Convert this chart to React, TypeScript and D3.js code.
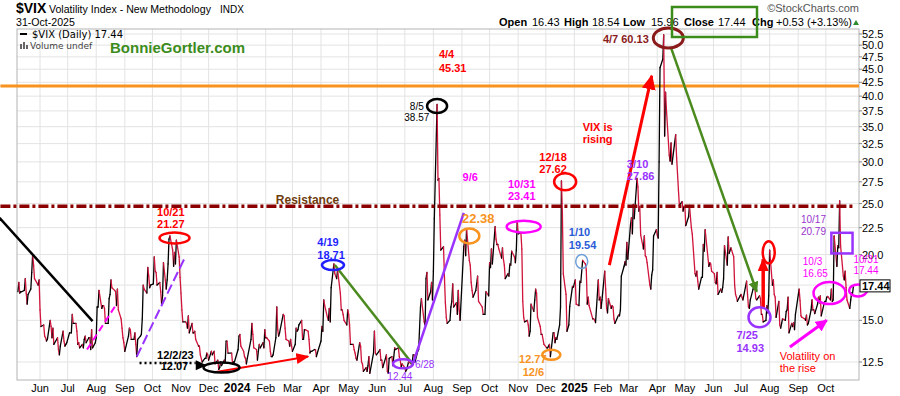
import React from "react";
import * as d3 from "d3";

// ---------- DATA ----------
const vix2023: [string, number][] = [
["2023-05-08",17.0],["2023-05-09",17.7],["2023-05-10",16.9],["2023-05-11",17.0],["2023-05-12",17.0],["2023-05-15",17.1],["2023-05-16",18.0],["2023-05-17",16.9],["2023-05-18",16.1],["2023-05-19",16.8],["2023-05-22",17.2],["2023-05-23",18.5],["2023-05-24",20.0],["2023-05-25",19.1],["2023-05-26",18.0],["2023-05-30",17.5],["2023-05-31",17.9],["2023-06-01",15.7],["2023-06-02",14.6],["2023-06-05",14.7],["2023-06-06",14.0],["2023-06-07",13.9],["2023-06-08",13.7],["2023-06-09",13.8],["2023-06-12",15.0],["2023-06-13",14.6],["2023-06-14",13.9],["2023-06-15",14.5],["2023-06-16",13.5],["2023-06-20",13.9],["2023-06-21",13.2],["2023-06-22",12.9],["2023-06-23",13.4],["2023-06-26",14.3],["2023-06-27",13.7],["2023-06-28",13.4],["2023-06-29",13.5],["2023-06-30",13.6],["2023-07-03",14.2],["2023-07-05",14.2],["2023-07-06",15.4],["2023-07-07",14.8],["2023-07-10",14.8],["2023-07-11",14.3],["2023-07-12",13.5],["2023-07-13",13.6],["2023-07-14",13.3],["2023-07-17",13.5],["2023-07-18",13.3],["2023-07-19",13.8],["2023-07-20",14.0],["2023-07-21",13.6],["2023-07-24",13.9],["2023-07-25",13.9],["2023-07-26",13.2],["2023-07-27",14.4],["2023-07-28",13.3],["2023-07-31",13.6],["2023-08-01",13.9],["2023-08-02",15.9],["2023-08-03",15.9],["2023-08-04",17.1],["2023-08-07",15.8],["2023-08-08",16.0],["2023-08-09",16.0],["2023-08-10",15.8],["2023-08-11",14.8],["2023-08-14",14.8],["2023-08-15",16.5],["2023-08-16",16.8],["2023-08-17",17.9],["2023-08-18",17.3],["2023-08-21",17.1],["2023-08-22",17.0],["2023-08-23",16.0],["2023-08-24",17.2],["2023-08-25",15.7],["2023-08-28",15.1],["2023-08-29",14.5],["2023-08-30",13.9],["2023-08-31",13.6],["2023-09-01",13.1],["2023-09-05",14.0],["2023-09-06",14.5],["2023-09-07",14.4],["2023-09-08",13.8],["2023-09-11",13.8],["2023-09-12",14.2],["2023-09-13",13.5],["2023-09-14",12.8],["2023-09-15",13.8],["2023-09-18",14.0],["2023-09-19",14.1],["2023-09-20",15.1],["2023-09-21",17.5],["2023-09-22",17.2],["2023-09-25",16.9],["2023-09-26",18.9],["2023-09-27",18.2],["2023-09-28",17.3],["2023-09-29",17.5],["2023-10-02",17.6],["2023-10-03",19.8],["2023-10-04",18.6],["2023-10-05",18.5],["2023-10-06",17.5],["2023-10-09",17.7],["2023-10-10",17.0],["2023-10-11",16.1],["2023-10-12",16.7],["2023-10-13",19.3],["2023-10-16",17.2],["2023-10-17",17.9],["2023-10-18",19.2],["2023-10-19",21.4],["2023-10-20",21.7],["2023-10-23",20.4],["2023-10-24",19.0],["2023-10-25",20.2],["2023-10-26",19.2],["2023-10-27",21.3],["2023-10-30",19.8],["2023-10-31",18.1],["2023-11-01",16.9],["2023-11-02",15.7],["2023-11-03",14.9],["2023-11-06",14.9],["2023-11-07",14.8],["2023-11-08",14.5],["2023-11-09",15.3],["2023-11-10",14.2],["2023-11-13",14.8],["2023-11-14",14.2],["2023-11-15",14.2],["2023-11-16",14.3],["2023-11-17",13.8],["2023-11-20",13.4],["2023-11-21",13.4],["2023-11-22",12.9],["2023-11-24",12.5],["2023-11-27",12.7],["2023-11-28",12.7],["2023-11-29",13.0],["2023-11-30",12.9],["2023-12-01",12.6],["2023-12-04",13.1],["2023-12-05",12.9],["2023-12-06",13.0],["2023-12-07",13.1],["2023-12-08",12.4],["2023-12-11",12.6],["2023-12-12",12.1],["2023-12-13",12.2],["2023-12-14",12.5],["2023-12-15",12.3],["2023-12-18",12.6],["2023-12-19",12.5],["2023-12-20",13.7],["2023-12-21",13.7],["2023-12-22",13.0],["2023-12-26",13.0],["2023-12-27",12.4],["2023-12-28",12.5],["2023-12-29",12.5]
];

const vix2024: [string, number][] = [
["2024-01-02",13.2],["2024-01-03",14.0],["2024-01-04",14.1],["2024-01-05",13.4],["2024-01-08",13.1],["2024-01-09",12.8],["2024-01-10",12.7],["2024-01-11",12.4],["2024-01-12",12.7],["2024-01-16",13.8],["2024-01-17",14.8],["2024-01-18",14.1],["2024-01-19",13.3],["2024-01-22",13.2],["2024-01-23",12.6],["2024-01-24",13.1],["2024-01-25",13.5],["2024-01-26",13.3],["2024-01-29",13.6],["2024-01-30",13.3],["2024-01-31",14.4],["2024-02-01",13.9],["2024-02-02",13.9],["2024-02-05",13.7],["2024-02-06",13.1],["2024-02-07",12.8],["2024-02-08",12.8],["2024-02-09",12.9],["2024-02-12",13.9],["2024-02-13",15.9],["2024-02-14",14.4],["2024-02-15",14.0],["2024-02-16",14.2],["2024-02-20",15.4],["2024-02-21",15.3],["2024-02-22",14.5],["2024-02-23",13.8],["2024-02-26",13.7],["2024-02-27",13.4],["2024-02-28",13.8],["2024-02-29",13.4],["2024-03-01",13.1],["2024-03-04",13.5],["2024-03-05",14.5],["2024-03-06",14.3],["2024-03-07",14.4],["2024-03-08",14.7],["2024-03-11",15.0],["2024-03-12",13.8],["2024-03-13",13.8],["2024-03-14",14.4],["2024-03-15",14.4],["2024-03-18",14.3],["2024-03-19",13.8],["2024-03-20",13.0],["2024-03-21",13.1],["2024-03-22",13.1],["2024-03-25",13.2],["2024-03-26",13.2],["2024-03-27",12.8],["2024-03-28",13.0],["2024-04-01",13.7],["2024-04-02",14.6],["2024-04-03",14.3],["2024-04-04",16.4],["2024-04-05",16.0],["2024-04-08",15.2],["2024-04-09",15.0],["2024-04-10",15.8],["2024-04-11",14.9],["2024-04-12",17.3],["2024-04-15",19.2],["2024-04-16",18.4],["2024-04-17",18.2],["2024-04-18",18.0],["2024-04-19",18.7],["2024-04-22",16.9],["2024-04-23",15.7],["2024-04-24",15.7],["2024-04-25",15.4],["2024-04-26",15.0],["2024-04-29",14.7],["2024-04-30",15.7],["2024-05-01",15.4],["2024-05-02",14.7],["2024-05-03",13.5],["2024-05-06",13.5],["2024-05-07",13.2],["2024-05-08",13.0],["2024-05-09",12.7],["2024-05-10",12.6],["2024-05-13",13.6],["2024-05-14",13.4],["2024-05-15",12.5],["2024-05-16",12.4],["2024-05-17",12.0],["2024-05-20",12.2],["2024-05-21",12.0],["2024-05-22",12.3],["2024-05-23",12.8],["2024-05-24",11.9],["2024-05-28",13.0],["2024-05-29",14.3],["2024-05-30",13.0],["2024-05-31",12.9],["2024-06-03",13.1],["2024-06-04",13.2],["2024-06-05",12.6],["2024-06-06",12.6],["2024-06-07",12.2],["2024-06-10",12.7],["2024-06-11",12.9],["2024-06-12",12.0],["2024-06-13",11.9],["2024-06-14",12.7],["2024-06-17",12.8],["2024-06-18",12.3],["2024-06-20",13.3],["2024-06-21",13.2],["2024-06-24",13.3],["2024-06-25",12.8],["2024-06-26",12.6],["2024-06-27",12.2],["2024-06-28",12.4],["2024-07-01",12.2],["2024-07-02",12.0],["2024-07-03",12.1],["2024-07-05",12.5],["2024-07-08",12.4],["2024-07-09",12.5],["2024-07-10",12.9],["2024-07-11",12.9],["2024-07-12",12.5],["2024-07-15",13.1],["2024-07-16",13.2],["2024-07-17",14.5],["2024-07-18",15.9],["2024-07-19",16.5],["2024-07-22",14.9],["2024-07-23",14.7],["2024-07-24",18.0],["2024-07-25",18.5],["2024-07-26",16.4],["2024-07-29",17.0],["2024-07-30",17.7],["2024-07-31",16.4],["2024-08-01",18.6],["2024-08-02",23.4],["2024-08-05",38.6],["2024-08-06",27.7],["2024-08-07",27.9],["2024-08-08",23.8],["2024-08-09",20.4],["2024-08-12",20.7],["2024-08-13",18.1],["2024-08-14",16.2],["2024-08-15",15.2],["2024-08-16",14.8],["2024-08-19",15.0],["2024-08-20",15.9],["2024-08-21",16.3],["2024-08-22",17.6],["2024-08-23",15.9],["2024-08-26",16.2],["2024-08-27",15.4],["2024-08-28",17.1],["2024-08-29",15.7],["2024-08-30",15.0],["2024-09-03",20.7],["2024-09-04",21.3],["2024-09-05",19.9],["2024-09-06",22.4],["2024-09-09",19.5],["2024-09-10",19.1],["2024-09-11",17.7],["2024-09-12",17.1],["2024-09-13",16.6],["2024-09-16",17.1],["2024-09-17",17.6],["2024-09-18",18.2],["2024-09-19",16.3],["2024-09-20",16.2],["2024-09-23",15.9],["2024-09-24",15.4],["2024-09-25",15.4],["2024-09-26",15.4],["2024-09-27",17.0],["2024-09-30",16.7],["2024-10-01",19.3],["2024-10-02",18.9],["2024-10-03",20.5],["2024-10-04",19.2],["2024-10-07",22.6],["2024-10-08",21.4],["2024-10-09",20.9],["2024-10-10",20.9],["2024-10-11",20.5],["2024-10-14",19.7],["2024-10-15",20.6],["2024-10-16",19.6],["2024-10-17",19.1],["2024-10-18",18.0],["2024-10-21",18.4],["2024-10-22",18.2],["2024-10-23",19.2],["2024-10-24",19.1],["2024-10-25",20.3],["2024-10-28",19.8],["2024-10-29",19.3],["2024-10-30",20.4],["2024-10-31",23.2],["2024-11-01",21.9],["2024-11-04",22.0],["2024-11-05",20.5],["2024-11-06",16.3],["2024-11-07",15.2],["2024-11-08",14.9],["2024-11-11",15.0],["2024-11-12",14.7],["2024-11-13",14.0],["2024-11-14",14.3],["2024-11-15",16.1],["2024-11-18",15.6],["2024-11-19",16.4],["2024-11-20",17.2],["2024-11-21",16.9],["2024-11-22",15.2],["2024-11-25",14.6],["2024-11-26",14.1],["2024-11-27",14.1],["2024-11-29",13.5],["2024-12-02",13.3],["2024-12-03",13.3],["2024-12-04",13.4],["2024-12-05",13.5],["2024-12-06",12.8],["2024-12-09",14.2],["2024-12-10",14.2],["2024-12-11",13.6],["2024-12-12",13.9],["2024-12-13",13.8],["2024-12-16",14.7],["2024-12-17",15.9],["2024-12-18",27.6],["2024-12-19",24.1],["2024-12-20",18.4],["2024-12-23",16.8],["2024-12-24",14.3],["2024-12-26",14.7],["2024-12-27",15.95],["2024-12-30",17.4],["2024-12-31",17.35]
];

const vix2025: [string, number][] = [
["2025-01-02",17.9],["2025-01-03",16.1],["2025-01-06",16.0],["2025-01-07",17.8],["2025-01-08",17.7],["2025-01-10",19.5],["2025-01-13",19.2],["2025-01-14",18.7],["2025-01-15",16.1],["2025-01-16",16.6],["2025-01-17",16.0],["2025-01-21",15.1],["2025-01-22",15.1],["2025-01-23",15.0],["2025-01-24",14.85],["2025-01-27",17.9],["2025-01-28",16.4],["2025-01-29",16.6],["2025-01-30",15.8],["2025-01-31",16.4],["2025-02-03",18.6],["2025-02-04",17.2],["2025-02-05",15.8],["2025-02-06",15.5],["2025-02-07",16.5],["2025-02-10",15.8],["2025-02-11",16.0],["2025-02-12",15.9],["2025-02-13",15.1],["2025-02-14",14.8],["2025-02-18",15.35],["2025-02-19",15.3],["2025-02-20",15.7],["2025-02-21",18.2],["2025-02-24",19.0],["2025-02-25",19.4],["2025-02-26",19.1],["2025-02-27",21.1],["2025-02-28",19.6],["2025-03-03",22.8],["2025-03-04",23.5],["2025-03-05",21.9],["2025-03-06",24.9],["2025-03-07",23.4],["2025-03-10",27.9],["2025-03-11",26.9],["2025-03-12",24.2],["2025-03-13",24.7],["2025-03-14",21.8],["2025-03-17",20.5],["2025-03-18",21.7],["2025-03-19",19.9],["2025-03-20",19.8],["2025-03-21",19.3],["2025-03-24",17.5],["2025-03-25",17.2],["2025-03-26",18.3],["2025-03-27",18.7],["2025-03-28",21.7],["2025-03-31",22.3],["2025-04-01",21.8],["2025-04-02",21.5],["2025-04-03",30.0],["2025-04-04",45.3],["2025-04-07",47.0],["2025-04-08",52.3],["2025-04-09",33.6],["2025-04-10",40.7],["2025-04-11",37.6],["2025-04-14",30.9],["2025-04-15",30.1],["2025-04-16",32.6],["2025-04-17",29.7],["2025-04-21",33.8],["2025-04-22",30.6],["2025-04-23",28.5],["2025-04-24",26.5],["2025-04-25",24.8],["2025-04-28",25.2],["2025-04-29",24.2],["2025-04-30",24.7],["2025-05-01",24.6],["2025-05-02",22.7],["2025-05-05",23.6],["2025-05-06",24.8],["2025-05-07",23.6],["2025-05-08",22.5],["2025-05-09",21.9],["2025-05-12",18.4],["2025-05-13",18.2],["2025-05-14",18.6],["2025-05-15",17.8],["2025-05-16",17.2],["2025-05-19",18.1],["2025-05-20",18.1],["2025-05-21",20.9],["2025-05-22",20.3],["2025-05-23",22.3],["2025-05-27",19.0],["2025-05-28",19.3],["2025-05-29",19.2],["2025-05-30",18.6],["2025-06-02",18.4],["2025-06-03",17.7],["2025-06-04",17.6],["2025-06-05",18.5],["2025-06-06",16.8],["2025-06-09",17.2],["2025-06-10",16.95],["2025-06-11",17.3],["2025-06-12",18.0],["2025-06-13",20.8],["2025-06-16",19.1],["2025-06-17",21.6],["2025-06-18",20.1],["2025-06-20",20.6],["2025-06-23",19.8],["2025-06-24",17.5],["2025-06-25",16.8],["2025-06-26",16.6],["2025-06-27",16.3],["2025-06-30",16.7],["2025-07-01",16.8],["2025-07-02",16.6],["2025-07-03",16.4],["2025-07-07",17.8],["2025-07-08",16.8],["2025-07-09",15.9],["2025-07-10",15.8],["2025-07-11",16.4],["2025-07-14",17.2],["2025-07-15",17.4],["2025-07-16",17.2],["2025-07-17",16.5],["2025-07-18",16.4],["2025-07-21",16.7],["2025-07-22",16.5],["2025-07-23",15.4],["2025-07-24",15.4],["2025-07-25",14.9],["2025-07-28",15.0],["2025-07-29",16.0],["2025-07-30",15.5],["2025-07-31",16.7],["2025-08-01",20.4],["2025-08-04",17.5],["2025-08-05",17.9],["2025-08-06",16.8],["2025-08-07",16.6],["2025-08-08",15.2],["2025-08-11",16.3],["2025-08-12",14.7],["2025-08-13",14.5],["2025-08-14",14.8],["2025-08-15",15.1],["2025-08-18",15.0],["2025-08-19",15.6],["2025-08-20",15.7],["2025-08-21",16.6],["2025-08-22",14.2],["2025-08-25",14.8],["2025-08-26",14.6],["2025-08-27",14.85],["2025-08-28",14.4],["2025-08-29",15.4],["2025-09-02",17.2],["2025-09-03",16.35],["2025-09-04",15.3],["2025-09-05",15.2],["2025-09-08",15.1],["2025-09-09",15.0],["2025-09-10",15.35],["2025-09-11",14.7],["2025-09-12",14.8],["2025-09-15",15.7],["2025-09-16",16.4],["2025-09-17",15.7],["2025-09-18",15.7],["2025-09-19",15.45],["2025-09-22",16.1],["2025-09-23",16.6],["2025-09-24",16.2],["2025-09-25",16.7],["2025-09-26",15.3],["2025-09-29",16.1],["2025-09-30",16.3],["2025-10-01",16.3],["2025-10-02",16.6],["2025-10-03",16.65],["2025-10-06",16.4],["2025-10-07",17.2],["2025-10-08",16.3],["2025-10-09",16.4],["2025-10-10",21.7],["2025-10-13",19.0],["2025-10-14",20.8],["2025-10-15",20.6],["2025-10-16",25.3],["2025-10-17",20.8],["2025-10-20",18.2],["2025-10-21",17.9],["2025-10-22",18.6],["2025-10-23",17.3],["2025-10-24",16.4],["2025-10-27",15.8],["2025-10-28",16.4],["2025-10-29",16.9],["2025-10-30",16.9],["2025-10-31",17.44]
];

const yTicks = [12.5, 15, 17.5, 20, 22.5, 25, 27.5, 30, 32.5, 35, 37.5, 40, 42.5, 45, 47.5, 50, 52.5];
const ohlcLabels = ["Open", "High", "Low", "Close", "Chg"];
const ohlcValues = ["16.43", "18.54", "15.96", "17.44", "+0.53 (+3.13%)"];
const resistanceLevel = 24.7;
const upperLevel = 41.8;

type Pt = [string, number];
type Seg = { from: Pt; to: Pt; color: string; w: number; dash?: string; arrow?: string };
const trendLines: Seg[] = [
  { from: ["2023-04-18", 23.5], to: ["2023-07-28", 14.95], color: "#000", w: 2.5 },
  { from: ["2023-07-22", 13.2], to: ["2023-08-23", 16.1], color: "#ff00ff", w: 2, dash: "7,4" },
  { from: ["2023-09-14", 12.8], to: ["2023-11-05", 19.7], color: "#9933ff", w: 2, dash: "10,4" },
  { from: ["2023-09-17", 12.45], to: ["2023-11-17", 12.45], color: "#000", w: 2.5, dash: "2,3" },
  { from: ["2023-12-09", 11.96], to: ["2024-03-18", 12.8], color: "#ff0000", w: 2, arrow: "ahRed" },
  { from: ["2024-04-16", 19.1], to: ["2024-07-10", 12.35], color: "#4a8a1e", w: 2.5 },
  { from: ["2024-07-10", 12.45], to: ["2024-09-03", 24.0], color: "#9933ff", w: 2.5 },
  { from: ["2025-02-08", 19.1], to: ["2025-03-26", 43.7], color: "#ff0000", w: 3, arrow: "ahRedBig" },
  { from: ["2025-04-16", 49.4], to: ["2025-07-18", 17.0], color: "#4a8a1e", w: 2.5, arrow: "ahGreen" },
  { from: ["2025-07-25", 15.9], to: ["2025-07-25", 19.6], color: "#ff0000", w: 3.5, arrow: "ahRed" },
  { from: ["2025-08-23", 13.35], to: ["2025-10-02", 15.0], color: "#ff00ff", w: 3, arrow: "ahMag" },
];

type Ell = { at: Pt; rx: number; ry: number; color: string; w: number };
const ellipses: Ell[] = [
  { at: ["2023-10-25", 21.5], rx: 15, ry: 5.5, color: "#ff0000", w: 2.5 },
  { at: ["2023-12-15", 12.2], rx: 18, ry: 5, color: "#000", w: 2.5 },
  { at: ["2024-04-14", 19.1], rx: 11, ry: 5, color: "#1f1fff", w: 2.5 },
  { at: ["2024-06-29", 12.4], rx: 10, ry: 4.5, color: "#9933ff", w: 2.5 },
  { at: ["2024-08-05", 38.3], rx: 10, ry: 7, color: "#000", w: 2.5 },
  { at: ["2024-09-09", 21.7], rx: 10, ry: 7.5, color: "#f7931e", w: 2.5 },
  { at: ["2024-11-07", 22.6], rx: 17, ry: 6, color: "#ff00ff", w: 2.5 },
  { at: ["2024-12-07", 12.9], rx: 9, ry: 5, color: "#f7931e", w: 2.5 },
  { at: ["2024-12-22", 27.5], rx: 11, ry: 8.5, color: "#ff0000", w: 2.5 },
  { at: ["2025-01-09", 19.4], rx: 6, ry: 7, color: "#6f9fd8", w: 1.5 },
  { at: ["2025-04-13", 51.6], rx: 15, ry: 10, color: "#8b1a1a", w: 3 },
  { at: ["2025-07-21", 15.2], rx: 11, ry: 10, color: "#9933ff", w: 2.5 },
  { at: ["2025-07-31", 20.2], rx: 6, ry: 11, color: "#ff0000", w: 2.5 },
  { at: ["2025-10-05", 16.9], rx: 16, ry: 11, color: "#ff00ff", w: 2.5 },
  { at: ["2025-11-05", 17.1], rx: 9, ry: 6, color: "#ff00ff", w: 2.5 },
];

type Lbl = { t: string; at: Pt; color: string; size: number; bold?: boolean; anchor?: string };
const labels: Lbl[] = [
  { t: "10/21", at: ["2023-10-06", 23.67], color: "#ff0000", size: 11, bold: true },
  { t: "21.27", at: ["2023-10-06", 22.47], color: "#ff0000", size: 11, bold: true },
  { t: "Resistance", at: ["2024-02-12", 24.95], color: "#6e3b0e", size: 12, bold: true },
  { t: "12/2/23", at: ["2023-10-06", 12.67], color: "#000", size: 11, bold: true },
  { t: "12.07", at: ["2023-10-10", 12.07], color: "#000", size: 11, bold: true },
  { t: "4/19", at: ["2024-03-28", 20.76], color: "#1f1fff", size: 11, bold: true },
  { t: "18.71", at: ["2024-03-28", 19.61], color: "#1f1fff", size: 11, bold: true },
  { t: "4/4", at: ["2024-08-07", 47.25], color: "#ff0000", size: 11, bold: true },
  { t: "45.31", at: ["2024-08-07", 44.45], color: "#ff0000", size: 11, bold: true },
  { t: "8/5", at: ["2024-07-14", 37.64], color: "#000", size: 10, anchor: "middle" },
  { t: "38.57", at: ["2024-07-14", 35.87], color: "#000", size: 10, anchor: "middle" },
  { t: "9/6", at: ["2024-09-10", 27.59], color: "#ff00ff", size: 11, bold: true, anchor: "middle" },
  { t: "22.38", at: ["2024-09-01", 22.96], color: "#f7931e", size: 13, bold: true },
  { t: "10/31", at: ["2024-10-21", 26.76], color: "#ff00ff", size: 11, bold: true },
  { t: "23.41", at: ["2024-10-21", 25.39], color: "#ff00ff", size: 11, bold: true },
  { t: "12/18", at: ["2024-11-24", 30.11], color: "#ff0000", size: 11, bold: true },
  { t: "27.62", at: ["2024-11-24", 28.57], color: "#ff0000", size: 11, bold: true },
  { t: "12.77", at: ["2024-11-02", 12.45], color: "#f7931e", size: 11, bold: true },
  { t: "12/6", at: ["2024-11-06", 11.76], color: "#f7931e", size: 11, bold: true },
  { t: "1/10", at: ["2024-12-26", 21.69], color: "#2a5bd7", size: 11, bold: true },
  { t: "19.54", at: ["2024-12-26", 20.49], color: "#2a5bd7", size: 11, bold: true },
  { t: "VIX is", at: ["2025-01-10", 34.34], color: "#ff0000", size: 11, bold: true },
  { t: "rising", at: ["2025-01-10", 32.58], color: "#ff0000", size: 11, bold: true },
  { t: "3/10", at: ["2025-02-27", 29.21], color: "#9933ff", size: 11, bold: true },
  { t: "27.86", at: ["2025-02-27", 27.71], color: "#9933ff", size: 11, bold: true },
  { t: "4/7 60.13", at: ["2025-02-01", 50.46], color: "#8b1a1a", size: 11, bold: true },
  { t: "7/25", at: ["2025-06-26", 13.82], color: "#9933ff", size: 11, bold: true },
  { t: "14.93", at: ["2025-06-26", 13.06], color: "#9933ff", size: 11, bold: true },
  { t: "10/17", at: ["2025-09-04", 22.96], color: "#9933cc", size: 10 },
  { t: "20.79", at: ["2025-09-04", 21.78], color: "#9933cc", size: 10 },
  { t: "10/3", at: ["2025-09-06", 19.11], color: "#ff00ff", size: 10 },
  { t: "16.65", at: ["2025-09-06", 18.13], color: "#ff00ff", size: 10 },
  { t: "10/31", at: ["2025-10-31", 19.3], color: "#ff00ff", size: 10 },
  { t: "17.44", at: ["2025-10-31", 18.4], color: "#ff00ff", size: 10 },
  { t: "Volatility on", at: ["2025-08-12", 12.61], color: "#ff0000", size: 11 },
  { t: "the rise", at: ["2025-08-12", 11.97], color: "#ff0000", size: 11 },
  { t: "6/28", at: ["2024-07-12", 12.18], color: "#9933ff", size: 10 },
  { t: "12.44", at: ["2024-06-12", 11.53], color: "#9933ff", size: 10 },
];

// ---------- LAYOUT ----------
const W = 900, H = 396;
const L = 17, R = 859, T = 29, B = 380;
const FONT = "'Liberation Sans', Arial, Helvetica, sans-serif";
const UP = "#000000";
const DOWN = "#d0143c";

const parse = d3.utcParse("%Y-%m-%d");

export default function App() {
  const data = [...vix2023, ...vix2024, ...vix2025].map(([d, v]) => ({ date: parse(d)!, v }));
  const x = d3.scaleUtc().domain([parse("2023-05-07")!, parse("2025-11-06")!]).range([L, R]);
  const y = d3.scaleLog().domain([12.5, 52.5]).range([362, 34]);
  const P = (p: Pt): [number, number] => [x(parse(p[0])!), y(p[1])];

  const months = d3.utcMonth.range(parse("2023-06-01")!, parse("2025-11-01")!);
  const last = data[data.length - 1];
  const boxTop = y(last.v) - 6, boxBot = y(last.v) + 6;

  const segs = data.slice(1).map((d, i) => {
    const p = data[i];
    return { x1: x(p.date), y1: y(p.v), x2: x(d.date), y2: y(d.v), c: d.v >= p.v ? UP : DOWN };
  });

  const marker = (id: string, color: string, len: number, wid: number) => (
    <marker id={id} key={id} viewBox="0 0 10 10" refX={9} refY={5} markerWidth={len} markerHeight={wid}
      markerUnits="userSpaceOnUse" orient="auto" preserveAspectRatio="none">
      <path d="M0,0 L10,5 L0,10 z" fill={color} />
    </marker>
  );

  const fish = P(["2023-11-29", 12.33]);
  const rectA = P(["2025-10-07", 22.0]);
  const rectB = P(["2025-10-30", 20.1]);
  const resA = P(["2023-04-19", resistanceLevel]);
  const resB = P(["2025-10-31", resistanceLevel]);
  const orA = P(["2023-04-19", upperLevel]);
  const orB = P(["2025-11-06", upperLevel]);
  const ohlcX = [499, 532, 564, 592, 623, 651, 684, 718, 752, 776];

  return (
    <svg width={W} height={H} style={{ position: "absolute", left: 0, top: 0, background: "#fff" }} fontFamily={FONT}>
      <defs>
        {marker("ahRed", "#ff0000", 13, 11)}
        {marker("ahRedBig", "#ff0000", 15, 14)}
        {marker("ahGreen", "#4a8a1e", 11, 10)}
        {marker("ahMag", "#ff00ff", 12, 12)}
      </defs>
      <rect x={0} y={0} width={W} height={H} fill="#fff" />

      {/* header */}
      <text x={16} y={13} fontSize={14} fontWeight="bold" fill="#000">$VIX</text>
      <text x={49} y={13} fontSize={10.6} fill="#000">Volatility Index - New Methodology</text>
      <text x={220} y={13} fontSize={10} fill="#000">INDX</text>
      <text x={16} y={26} fontSize={10.6} fill="#000">31-Oct-2025</text>
      <text x={859} y={12} fontSize={11} fill="#555" textAnchor="end">©StockCharts.com</text>
      {ohlcLabels.map((lb, i) => (
        <g key={lb}>
          <text x={ohlcX[i * 2]} y={26} fontSize={11} fontWeight="bold" fill="#000">{lb}</text>
          <text x={ohlcX[i * 2 + 1]} y={26} fontSize={11} fill="#000">{ohlcValues[i]}</text>
        </g>
      ))}
      <path d="M853,25 L859,25 L856,20 z" fill="#2e8b2e" />

      {/* grid */}
      {yTicks.map((t) => (
        <line key={"h" + t} x1={L} x2={R} y1={y(t)} y2={y(t)} stroke="#e3e3e3" strokeWidth={1} />
      ))}
      {months.map((m) => (
        <line key={"v" + +m} x1={x(m)} x2={x(m)} y1={T} y2={B} stroke="#e3e3e3" strokeWidth={1} />
      ))}
      <rect x={L} y={T} width={R - L} height={B - T} fill="none" stroke="#b4b4b4" strokeWidth={1} />

      {/* y axis (labels hidden under the last-price box are not drawn) */}
      {yTicks.map((t) => {
        const yy = y(t);
        const hidden = yy > boxTop - 4 && yy < boxBot + 4;
        return (
          <g key={"yt" + t}>
            <line x1={R} x2={R + 3} y1={yy} y2={yy} stroke="#888" />
            {!hidden && <text x={R + 3} y={yy + 4} fontSize={11} fill="#000">{d3.format(".1f")(t)}</text>}
          </g>
        );
      })}
      {/* x axis */}
      {months.map((m) => {
        const jan = m.getUTCMonth() === 0;
        return (
          <text key={"xl" + +m} x={x(m)} y={392} fontSize={jan ? 12 : 11} fontWeight={jan ? "bold" : "normal"}
            textAnchor="middle" fill="#000">{jan ? d3.utcFormat("%Y")(m) : d3.utcFormat("%b")(m)}</text>
        );
      })}

      {/* legend */}
      <line x1={20} x2={27} y1={34} y2={34} stroke="#000" strokeWidth={2} />
      <text x={32} y={38} fontSize={10} fontFamily="'DejaVu Sans', Verdana, sans-serif" fill="#000">$VIX (Daily) 17.44</text>
      <g fill="#666">
        <rect x={20} y={44} width={2} height={5} />
        <rect x={23} y={42} width={2} height={7} />
        <rect x={26} y={45} width={2} height={4} />
      </g>
      <text x={30} y={49} fontSize={9} fontFamily="'DejaVu Sans', Verdana, sans-serif" fill="#444">Volume undef</text>
      <text x={110} y={53} fontSize={15} fontWeight="bold" fill="#3c8c1c">BonnieGortler.com</text>

      {/* level lines */}
      <line x1={orA[0]} x2={orB[0]} y1={orA[1]} y2={orB[1]} stroke="#f7931e" strokeWidth={3} />

      {/* data line */}
      <g strokeWidth={1.3} strokeLinecap="round">
        {segs.map((s, i) => (
          <line key={i} x1={s.x1} y1={s.y1} x2={s.x2} y2={s.y2} stroke={s.c} />
        ))}
      </g>

      <line x1={resA[0]} x2={resB[0]} y1={resA[1]} y2={resB[1]} stroke="#8b0000" strokeWidth={3.5} strokeDasharray="10,3,3,3" />

      {/* trend lines */}
      {trendLines.map((s, i) => {
        const a = P(s.from), b = P(s.to);
        return (
          <line key={"tl" + i} x1={a[0]} y1={a[1]} x2={b[0]} y2={b[1]} stroke={s.color} strokeWidth={s.w}
            strokeDasharray={s.dash} markerEnd={s.arrow ? `url(#${s.arrow})` : undefined} />
        );
      })}
      <path d={`M${fish[0] - 11},${fish[1] - 5} L${fish[0]},${fish[1]} L${fish[0] - 11},${fish[1] + 5} z`} fill="#000" />

      {/* ellipses */}
      {ellipses.map((e, i) => {
        const c = P(e.at);
        return <ellipse key={"el" + i} cx={c[0]} cy={c[1]} rx={e.rx} ry={e.ry} fill="none" stroke={e.color} strokeWidth={e.w} />;
      })}
      <rect x={rectA[0]} y={rectA[1]} width={rectB[0] - rectA[0]} height={rectB[1] - rectA[1]} fill="none" stroke="#9933ff" strokeWidth={2.5} />
      <rect x={672} y={7} width={85} height={30} fill="none" stroke="#3c8c1c" strokeWidth={2.5} />

      {/* labels */}
      {labels.map((l, i) => {
        const p = P(l.at);
        return (
          <text key={"lb" + i} x={p[0]} y={p[1]} fontSize={l.size} fontWeight={l.bold ? "bold" : "normal"}
            fill={l.color} textAnchor={l.anchor || "start"}>{l.t}</text>
        );
      })}

      {/* last price box */}
      <rect x={R + 1} y={boxTop} width={30} height={12} fill="#fff" stroke="#000" strokeWidth={1} />
      <text x={R + 3} y={y(last.v) + 4} fontSize={11} fontWeight="bold" fill="#000">{last.v.toFixed(2)}</text>
    </svg>
  );
}
